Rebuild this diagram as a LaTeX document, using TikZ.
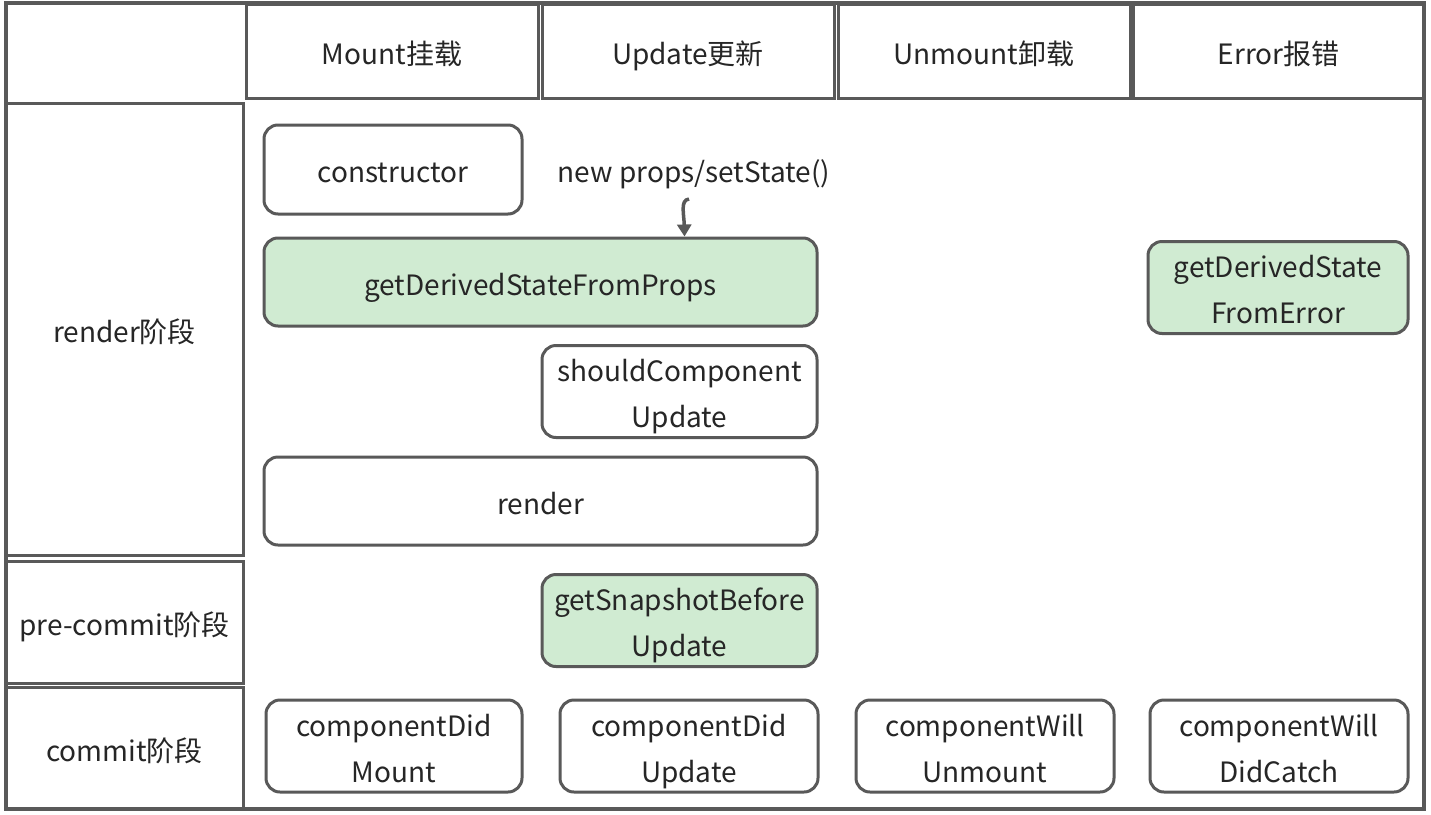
\documentclass[tikz,border=0pt]{standalone}
\usepackage{fontspec}
\setmainfont{Noto Sans CJK SC}
\usetikzlibrary{arrows.meta}
\definecolor{lineg}{RGB}{89,89,89}
\definecolor{txt}{RGB}{38,38,38}
\definecolor{lgreen}{RGB}{208,235,210}
\newcommand{\ls}{\fontsize{28}{46}\selectfont}
\newcommand{\st}{\rule[-9.8pt]{0pt}{46pt}}
\tikzset{
  cell/.style={draw=lineg, line width=3pt, rectangle, inner sep=0pt, text=txt,
    font=\ls, align=center},
  lbox/.style={draw=lineg, line width=3pt, rectangle, rounded corners=14pt, inner sep=0pt,
    text=txt, font=\ls, align=center, fill=white},
  gbox/.style={lbox, fill=lgreen},
  plain/.style={inner sep=0pt, text=txt, font=\ls},
}
\begin{document}
\begin{tikzpicture}[x=1pt,y=-1pt]
\useasboundingbox (0,0) rectangle (1431,814);
\fill[white] (0,0) rectangle (1431,814);
% outer border
\draw[lineg, line width=4pt] (6,3) rectangle (1424,809);
% header cells
\node[cell, minimum width=292pt, minimum height=94pt] (hMount) at (392,51) {\st Mount挂载};
\node[cell, minimum width=292pt, minimum height=94pt] (hUpdate) at (688,51) {\st Update更新};
\node[cell, minimum width=292pt, minimum height=94pt] (hUnmount) at (984,51) {\st Unmount卸载};
\node[cell, minimum width=291pt, minimum height=94pt] (hError) at (1278.5,51) {\st Error报错};
% left cells
\node[cell, minimum width=237pt, minimum height=452pt] (cRender) at (124.5,329) {\st render阶段};
\node[cell, minimum width=237pt, minimum height=122pt] (cPre) at (124.5,622) {\st pre-commit阶段};
\node[cell, minimum width=237pt, minimum height=122pt] (cCommit) at (124.5,748) {\st commit阶段};
% boxes
\node[lbox, minimum width=258pt, minimum height=89pt] (ctor) at (393,169.5) {\st constructor};
\node[plain] (np) at (694,169) {\st new props/setState()};
\node[gbox, minimum width=553pt, minimum height=88pt] (gdsp) at (540.5,282) {\st getDerivedStateFromProps};
\node[gbox, minimum width=260pt, minimum height=89pt] (gdse) at (1278,287.5) {\st getDerivedState\\\st FromError};
\node[lbox, minimum width=275pt, minimum height=89pt] (scu) at (679.5,391.5) {\st shouldComponent\\\st Update};
\node[lbox, minimum width=553pt, minimum height=88pt] (rnd) at (540.5,501) {\st render};
\node[gbox, minimum width=275pt, minimum height=89pt] (gsbu) at (679.5,620.5) {\st getSnapshotBefore\\\st Update};
\node[lbox, minimum width=256pt, minimum height=88pt] (cdm) at (394,746) {\st componentDid\\\st Mount};
\node[lbox, minimum width=258pt, minimum height=88pt] (cdu) at (689,746) {\st componentDid\\\st Update};
\node[lbox, minimum width=258pt, minimum height=88pt] (cwu) at (985,746) {\st componentWill\\\st Unmount};
\node[lbox, minimum width=258pt, minimum height=88pt] (cwdc) at (1279,746) {\st componentWill\\\st DidCatch};
% arrow
\coordinate (arrS) at (689,199);
\draw[lineg, line width=3.5pt, -{Triangle[length=12pt,width=14pt]}] (arrS) .. controls (680,200) and (684,214) .. (gdsp.north west -| 684.5,0);
\end{tikzpicture}
\end{document}
